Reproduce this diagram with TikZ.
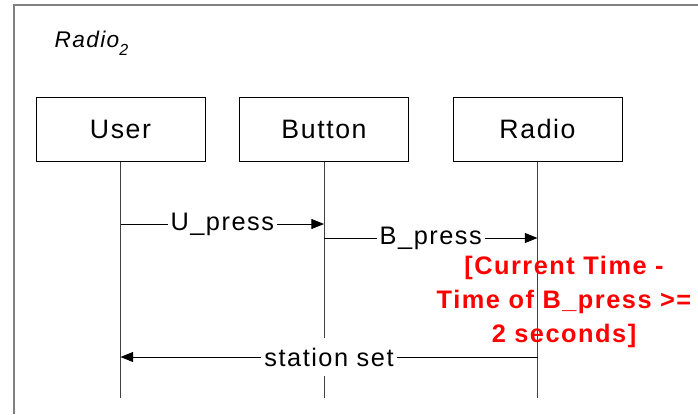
\documentclass[tikz,border=0pt]{standalone}
\usepackage{fontspec}
\setmainfont{Liberation Sans}[LetterSpace=6]
\usepackage{xcolor}
\usetikzlibrary{arrows.meta,positioning}

\begin{document}
\begin{tikzpicture}[x=0.75pt, y=-0.75pt,
    actor/.style={draw, line width=0.75pt, minimum width=126.75pt, minimum height=48pt, font=\fontsize{20}{23}\selectfont},
    life/.style={draw=black!75, line width=0.75pt},
    msg/.style={-{Triangle[length=9.5pt, width=7.5pt]}, line width=0.75pt},
    lbl/.style={fill=white, inner sep=2.25pt, minimum height=28pt, font=\fontsize{19}{22}\selectfont},
    frame/.style={draw=black!50, line width=1.5pt}
]
\useasboundingbox (0,0) rectangle (698,414);
\draw[frame] (698,5) -- (14,5) -- (14,414);
\node[anchor=base west, font=\itshape\fontsize{17}{20}\selectfont] (title) at (50,47)
    {Radio\raisebox{-6pt}{\fontsize{12}{13}\selectfont 2}};

% lifelines
\node[actor] (user) at (120.5,129) {User};
\node[actor] (button) at (324,129) {Button};
\node[actor] (radio) at (537.5,129) {Radio};
\coordinate (userEnd) at (user.south |- 0,398);
\coordinate (buttonEnd) at (button.south |- 0,398);
\coordinate (radioEnd) at (radio.south |- 0,398);
\draw[life] (user) -- (userEnd);
\draw[life] (button) -- (buttonEnd);
\draw[life] (radio) -- (radioEnd);

% messages
\coordinate (u1) at (user.south |- 0,224);
\coordinate (b1) at (button.south |- 0,224);
\coordinate (b2) at (button.south |- 0,238);
\coordinate (r2) at (radio.south |- 0,238);
\coordinate (r3) at (radio.south |- 0,357);
\coordinate (u3) at (user.south |- 0,357);
\draw[msg] (u1) -- node[lbl] (upress) {U\_press} (b1);
\draw[msg] (b2) -- node[lbl] (bpress) {B\_press} (r2);
\draw[msg] (r3) -- node[lbl] (stset) {station set} (u3);

% guard
\node[align=center, text=red, font=\bfseries\fontsize{19}{25.5}\selectfont] (guard) at (564,302)
    {[Current Time -\\Time of B\_press >=\\2 seconds]};
\end{tikzpicture}
\end{document}
